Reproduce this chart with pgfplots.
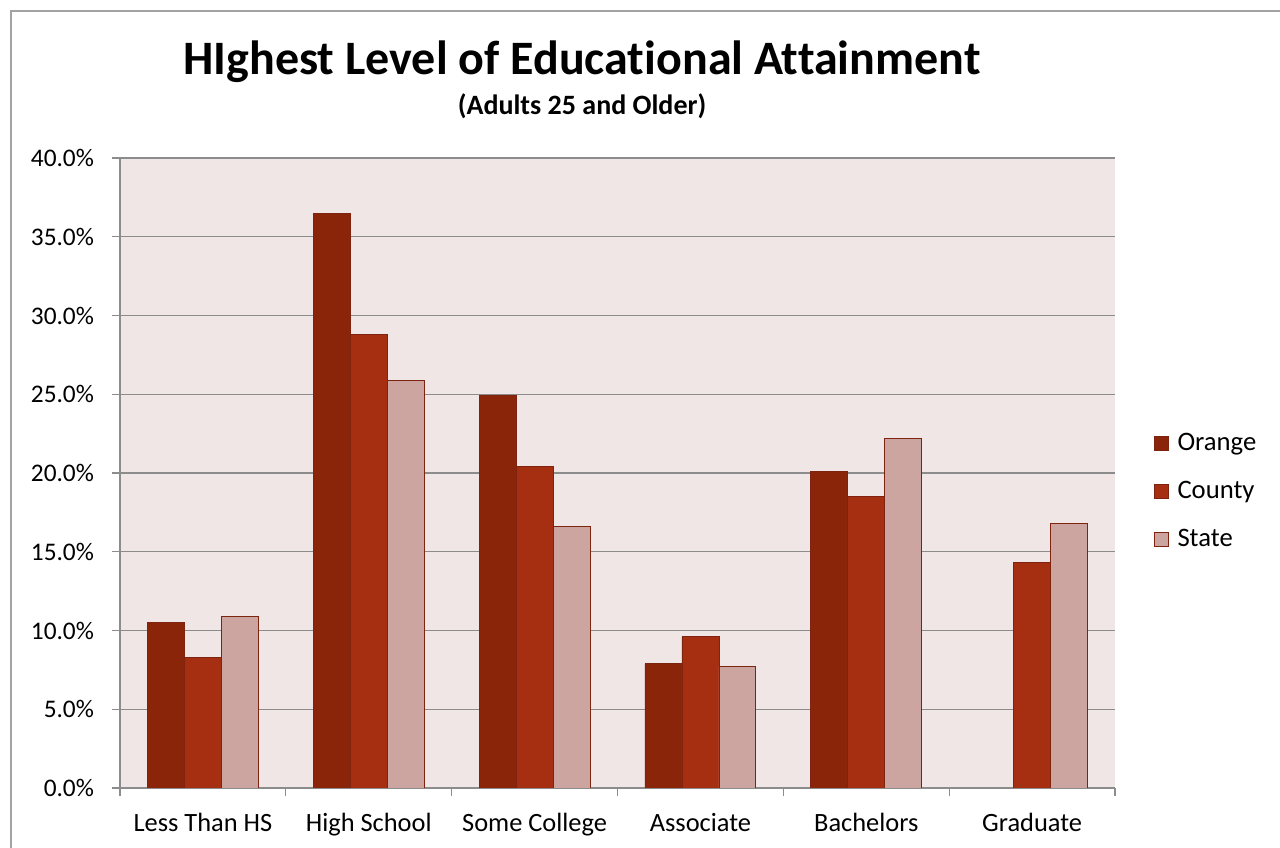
\documentclass[border=0pt]{standalone}
\usepackage{pgfplots}
\pgfplotsset{compat=1.18}
\usepackage{fontspec}
\setmainfont{Carlito}[Ligatures=NoCommon]
\definecolor{cOrange}{RGB}{139,37,10}
\definecolor{cCounty}{RGB}{166,47,18}
\definecolor{cState}{RGB}{204,165,161}
\definecolor{cEdge}{RGB}{125,35,15}
\definecolor{cBg}{RGB}{240,230,229}
\definecolor{cGrid}{RGB}{140,140,140}
\begin{document}
\begin{tikzpicture}[x=1pt,y=1pt]
\clip (-90,-45) rectangle (870,591);
\useasboundingbox (-90,-45) rectangle (870,591);
\fill[white] (-90,-45) rectangle (870,591);
\draw[cGrid!80, line width=0.9pt] (-81.75,-80) rectangle (900,582.75);
\begin{axis}[
  at={(0,0)}, anchor=south west,
  scale only axis, width=746.25pt, height=472.5pt,
  xmin=-0.5, xmax=5.5, ymin=0, ymax=40,
  axis lines=left, axis line style={-, cGrid, line width=0.8pt},
  axis background/.style={fill=cBg},
  ytick={0,5,...,40},
  yticklabel={\pgfmathprintnumber[fixed,fixed zerofill,precision=1]{\tick}\%},
  /pgf/number format/assume math mode=true,
  ymajorgrids, grid style={cGrid, line width=0.8pt},
  tick align=outside, major tick length=6pt, minor tick length=6pt,
  tick style={cGrid, line width=0.8pt},
  xtick={0,...,5}, major x tick style={draw=none},
  minor xtick={-0.5,0.5,...,5.5},
  xticklabels={Less Than HS, High School, Some College, Associate, Bachelors, Graduate},
  tick label style={text=black},
  xticklabel style={font=\fontsize{19.8}{23}\selectfont, text height=0.68em, text depth=0.22em, yshift=-16.5pt},
  yticklabel style={font=\fontsize{19}{22}\selectfont, xshift=-10pt},
  bar width=0.223, ybar=0pt,
  legend style={at={(1.035,0.471)}, anchor=west, draw=none, fill=none,
    font=\fontsize{20}{23}\selectfont, row sep=17.5pt},
  legend cell align=left,
  legend image code/.code={\draw[#1, line width=0.5pt] (0pt,-5pt) rectangle (10.5pt,5.5pt); \path (15pt,0pt);},
]
\addplot[fill=cOrange, draw=cEdge, line width=0.6pt, bar shift=-0.223] coordinates {(0,10.5) (1,36.5) (2,24.9) (3,7.9) (4,20.1)};
\addplot[fill=cCounty, draw=cEdge, line width=0.6pt, bar shift=0] coordinates {(0,8.3) (1,28.8) (2,20.4) (3,9.6) (4,18.5) (5,14.3)};
\addplot[fill=cState, draw=cEdge, line width=0.6pt, bar shift=0.223] coordinates {(0,10.9) (1,25.9) (2,16.6) (3,7.7) (4,22.2) (5,16.8)};
\legend{Orange, County, State}
\end{axis}
\node[font=\bfseries\fontsize{36}{40}\selectfont] at (346.5,545) {HIghest Level of Educational Attainment};
\node[font=\bfseries\fontsize{21}{24}\selectfont] at (346.5,511) {(Adults 25 and Older)};
\end{tikzpicture}
\end{document}
